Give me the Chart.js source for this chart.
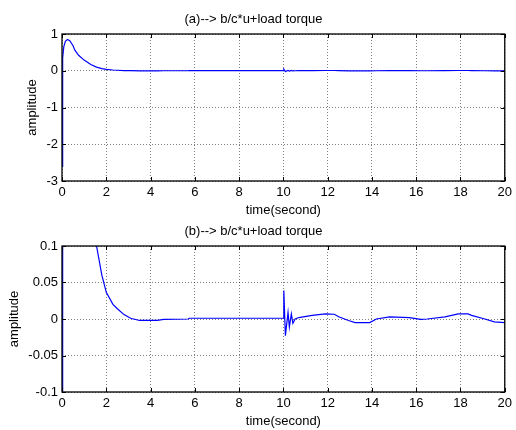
<!DOCTYPE html>
<html>
<head>
<meta charset="utf-8">
<script src="https://cdn.jsdelivr.net/npm/chart.js@4.4.1/dist/chart.umd.min.js"></script>
<style>
  html, body { margin: 0; padding: 0; background: #fff; }
  #wrap { position: relative; width: 516px; height: 430px; }
  #topBox { position: absolute; left: 0; top: 0; width: 516px; height: 220px; }
  #bottomBox { position: absolute; left: 0; top: 220px; width: 516px; height: 210px; }
</style>
</head>
<body>
<div id="wrap">
  <div id="topBox"><canvas id="chartA" width="516" height="220"></canvas></div>
  <div id="bottomBox"><canvas id="chartB" width="516" height="210"></canvas></div>
</div>
<script>
// signal (same response in both panels, (b) is zoomed in)
const timeVals = [
  0, 0.03, 0.08, 0.15, 0.25, 0.35, 0.5, 0.58, 0.75, 1.0, 1.3, 1.56, 1.8, 2.0,
  2.3, 2.5, 2.8, 3.1, 3.5, 4.3, 4.6, 5.7, 5.75, 10.0, 10.02, 10.09, 10.21,
  10.27, 10.36, 10.43, 10.53, 10.7, 11.3, 11.9, 12.3, 12.5, 12.94, 13.24,
  13.9, 14.2, 14.8, 15.7, 16.2, 16.5, 17.3, 17.9, 18.34, 18.5, 19.1, 19.53, 20
];
const amplitudeVals = [
  -2.6, 0.35, 0.65, 0.8, 0.85, 0.82, 0.68, 0.56, 0.42, 0.29, 0.17, 0.1, 0.06, 0.0365,
  0.02, 0.014, 0.006, 0.001, -0.002, -0.002, -0.0005, 0, 0.001, 0.001, 0.039, -0.023, 0.009,
  -0.011, 0.007, -0.006, 0.0, 0.002, 0.005, 0.007, 0.0065, 0.003, -0.002, -0.005,
  -0.005, 0, 0.003, 0.002, -0.0005, 0, 0.003, 0.007, 0.007, 0.005, 0, -0.004, -0.005
];
const xTickVals = [0, 2, 4, 6, 8, 10, 12, 14, 16, 18, 20];
const topYTicks = [-3, -2, -1, 0, 1];
const bottomYTicks = [-0.1, -0.05, 0, 0.05, 0.1];

Chart.defaults.font.family = "'Liberation Sans', Arial, sans-serif";
Chart.defaults.color = '#000';

const FONT = { size: 13, weight: 'normal' };

// matlab style box with inward tick marks
const boxPlugin = {
  id: 'box',
  afterDatasetsDraw(chart) {
    const { ctx, chartArea: { left, top, right, bottom }, scales: { x, y } } = chart;
    ctx.save();
    ctx.strokeStyle = '#000';
    ctx.lineWidth = 1;
    ctx.beginPath();
    x.ticks.forEach(t => {
      const px = Math.round(x.getPixelForValue(t.value)) + 0.5;
      ctx.moveTo(px, bottom); ctx.lineTo(px, bottom - 4);
      ctx.moveTo(px, top); ctx.lineTo(px, top + 4);
    });
    y.ticks.forEach(t => {
      const py = Math.round(y.getPixelForValue(t.value)) + 0.5;
      ctx.moveTo(left, py); ctx.lineTo(left + 4, py);
      ctx.moveTo(right, py); ctx.lineTo(right - 4, py);
    });
    ctx.stroke();
    ctx.lineWidth = 1.3;
    ctx.strokeRect(left, top, right - left, bottom - top);
    ctx.restore();
  }
};

function makeChart(id, cfg) {
  const points = timeVals.map((t, i) => ({ x: t, y: amplitudeVals[i] }));
  return new Chart(document.getElementById(id), {
    type: 'line',
    data: {
      datasets: [{
        data: points,
        borderColor: '#0000ff',
        borderWidth: 1.2,
        pointRadius: 0,
        tension: 0,
        fill: false
      }]
    },
    options: {
      responsive: false,
      animation: false,
      layout: { padding: { left: 0, right: 9, top: 0, bottom: 0 } },
      plugins: {
        legend: { display: false },
        tooltip: { enabled: false },
        title: {
          display: true,
          text: cfg.title,
          color: '#000',
          font: FONT,
          padding: cfg.titlePad
        }
      },
      scales: {
        x: {
          type: 'linear',
          min: 0,
          max: 20,
          afterBuildTicks: s => { s.ticks = xTickVals.map(v => ({ value: v })); },
          afterFit: s => { s.height = cfg.xHeight; },
          ticks: { padding: 4, font: FONT, color: '#000', maxRotation: 0, callback: v => String(v) },
          grid: { color: 'rgba(0,0,0,0.5)', lineWidth: 1, drawTicks: false },
          border: { display: false, dash: [1, 2] },
          title: {
            display: true,
            text: 'time(second)',
            font: FONT,
            color: '#000',
            padding: { top: 0, bottom: cfg.xTitlePad }
          }
        },
        y: {
          type: 'linear',
          min: cfg.yTicks[0],
          max: cfg.yTicks[cfg.yTicks.length - 1],
          afterBuildTicks: s => { s.ticks = cfg.yTicks.map(v => ({ value: v })); },
          afterFit: s => { s.width = 62; },
          ticks: { padding: 4, font: FONT, color: '#000', callback: v => String(v) },
          grid: { color: 'rgba(0,0,0,0.5)', lineWidth: 1, drawTicks: false },
          border: { display: false, dash: [1, 2] },
          title: {
            display: true,
            text: 'amplitude',
            font: FONT,
            color: '#000',
            padding: { top: cfg.yTitlePad, bottom: 0 }
          }
        }
      }
    },
    plugins: [boxPlugin]
  });
}

makeChart('chartA', {
  title: '(a)--> b/c*u+load torque',
  titlePad: { top: 11.2, bottom: 7.2 },
  xHeight: 39,
  xTitlePad: 2.2,
  yTitlePad: 24.2,
  yTicks: topYTicks
});

makeChart('chartB', {
  title: '(b)--> b/c*u+load torque',
  titlePad: { top: 3.2, bottom: 7.2 },
  xHeight: 38,
  xTitlePad: 1.2,
  yTitlePad: 6.2,
  yTicks: bottomYTicks
});
</script>
</body>
</html>
